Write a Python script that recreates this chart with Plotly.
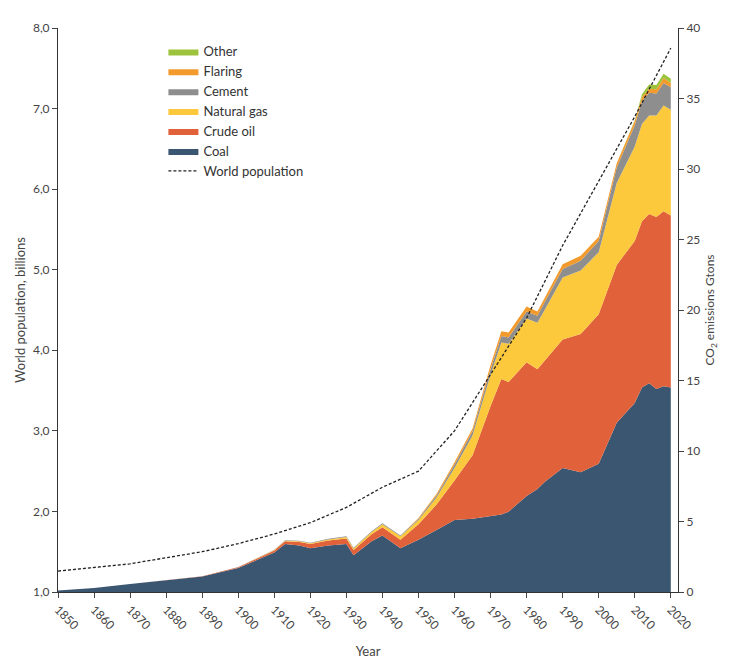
import plotly.graph_objects as go

years  = [1850,1860,1870,1880,1890,1900,1910,1913,1917,1920,1925,1930,1932,1937,1940,1945,1950,1955,1960,1965,1970,1973,1975,1980,1983,1985,1990,1995,2000,2005,2010,2012,2014,2016,2018,2020]
coal   = [0.1,0.28,0.57,0.85,1.1,1.7,2.8,3.4,3.3,3.1,3.3,3.4,2.6,3.6,4.0,3.1,3.7,4.4,5.1,5.2,5.4,5.5,5.7,6.8,7.3,7.8,8.8,8.5,9.1,12.0,13.4,14.5,14.8,14.4,14.6,14.5]
oil    = [0,0,0,0,0.02,0.05,0.15,0.2,0.25,0.3,0.35,0.4,0.38,0.5,0.6,0.6,1.1,1.8,2.8,4.5,7.8,9.6,9.2,9.5,8.5,8.6,9.1,9.8,10.6,11.2,11.5,11.8,12.0,12.2,12.4,12.2]
gas    = [0,0,0,0,0,0.01,0.03,0.04,0.05,0.06,0.08,0.1,0.1,0.15,0.2,0.25,0.3,0.5,0.9,1.4,2.2,2.6,2.7,3.1,3.3,3.6,4.4,4.5,4.4,5.8,6.7,6.9,7.0,7.2,7.5,7.5]
cement = [0,0,0,0,0,0.01,0.02,0.03,0.03,0.03,0.04,0.05,0.05,0.06,0.07,0.06,0.1,0.15,0.25,0.3,0.4,0.45,0.45,0.5,0.5,0.55,0.6,0.7,0.8,1.1,1.5,1.6,1.6,1.55,1.6,1.6]
flaring= [0,0,0,0,0,0,0,0,0,0,0,0,0,0,0,0,0.05,0.1,0.15,0.2,0.3,0.35,0.35,0.35,0.3,0.3,0.35,0.35,0.3,0.3,0.3,0.3,0.3,0.3,0.35,0.3]
other  = [0,0,0,0,0,0,0,0,0,0,0,0,0,0,0,0,0,0,0,0,0,0,0,0,0,0,0,0,0,0,0.05,0.2,0.3,0.3,0.3,0.3]
pop_years = [1850,1870,1890,1900,1910,1920,1930,1940,1945,1950,1960,1970,1980,1990,2000,2010,2020]
population = [1.26,1.35,1.5,1.6,1.72,1.86,2.05,2.3,2.4,2.5,3.0,3.7,4.4,5.3,6.1,6.9,7.75]

fig = go.Figure()
fig.add_trace(go.Scatter(x=pop_years, y=population, name="World population", mode="lines",
                         line=dict(color="#222", width=1.3, dash="3px,2px"), yaxis="y2"))
series = [("Coal",coal,"#3b5670"),("Crude oil",oil,"#e0613a"),("Natural gas",gas,"#fdc93c"),
          ("Cement",cement,"#8e8e8e"),("Flaring",flaring,"#f39a2c"),("Other",other,"#9dc33c")]
for name, vals, col in series:
    fig.add_trace(go.Scatter(x=years, y=vals, name=name, stackgroup="e", mode="lines",
                             line=dict(width=0, color=col), fillcolor=col, yaxis="y"))

tf = dict(family="Lato, sans-serif", size=12, color="#444")
fig.update_layout(
    width=732, height=661, plot_bgcolor="white", paper_bgcolor="white",
    margin=dict(l=42, r=62, t=12, b=74), showlegend=True, font=tf,
    legend=dict(x=0.17, y=0.985, xanchor="left", yanchor="top", traceorder="reversed",
                bgcolor="rgba(0,0,0,0)", font=dict(size=13, color="#333")),
    xaxis=dict(range=[1850,2022], tickvals=list(range(1850,2021,10)), tickangle=45,
               showline=True, linecolor="#333", ticks="outside", showgrid=False,
               title=dict(text="Year", font=dict(size=13)), zeroline=False),
    yaxis=dict(range=[0,40], side="right", tickvals=list(range(0,41,5)), showline=True,
               linecolor="#333", ticks="outside", showgrid=False, zeroline=False,
               title=dict(text="CO<sub>2</sub> emissions Gtons", font=dict(size=12), standoff=6)),
    yaxis2=dict(range=[1,8], overlaying="y", side="left", tickvals=[1,2,3,4,5,6,7,8],
                ticktext=["1,0","2,0","3,0","4,0","5,0","6,0","7,0","8,0"], showline=True,
                linecolor="#333", ticks="outside", showgrid=False, zeroline=False,
                title=dict(text="World population, billions", font=dict(size=13), standoff=4)),
)
fig.write_html("out.html")
